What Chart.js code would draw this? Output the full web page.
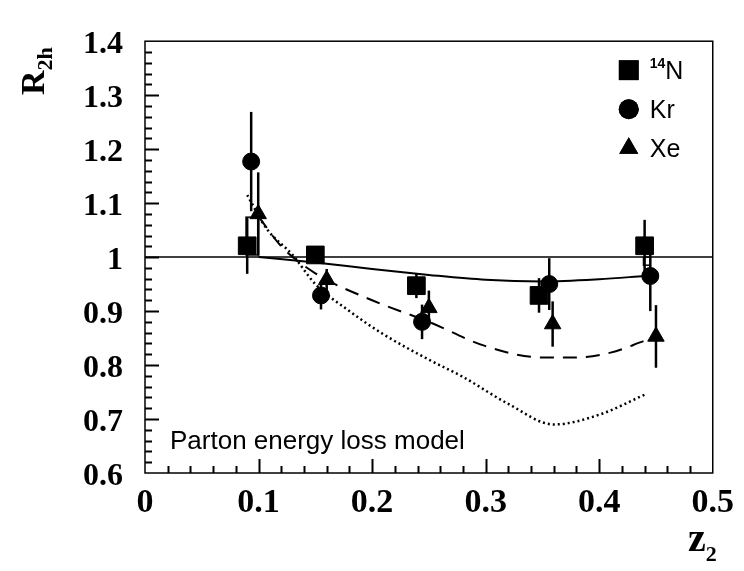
<!DOCTYPE html>
<html>
<head>
<meta charset="utf-8">
<script src="https://cdn.jsdelivr.net/npm/chart.js@4.4.1/dist/chart.umd.min.js"></script>
<style>
  html, body { margin: 0; padding: 0; background: #fff; }
  #wrap { width: 744px; height: 571px; position: relative; }
</style>
</head>
<body>
<div id="wrap"><canvas id="chart"></canvas></div>
<script>
// data
const xTicks = [0, 0.1, 0.2, 0.3, 0.4, 0.5];
const yTicks = [0.6, 0.7, 0.8, 0.9, 1.0, 1.1, 1.2, 1.3, 1.4];

const nX = [0.09, 0.15, 0.239, 0.347, 0.44];
const nY = [1.021, 1.004, 0.947, 0.929, 1.021];
const nErr = [0.052, 0.012, 0.023, 0.032, 0.048];

const krX = [0.0935, 0.155, 0.244, 0.356, 0.445];
const krY = [1.177, 0.929, 0.880, 0.950, 0.965];
const krErr = [0.092, 0.026, 0.032, 0.048, 0.065];

const xeX = [0.0997, 0.16, 0.25, 0.359, 0.45];
const xeY = [1.08, 0.958, 0.906, 0.876, 0.853];
const xeErr = [0.077, 0.02, 0.032, 0.042, 0.058];

// open systematic boxes [x1, x2, y1, y2]
const boxes = [[0.089, 0.1, 1.004, 1.074], [0.439, 0.445, 0.985, 1.0]];

// model curves
const solidX = [0.10, 0.15, 0.20, 0.25, 0.30, 0.35, 0.40, 0.44];
const solidY = [1.0, 0.99, 0.978, 0.967, 0.958, 0.955, 0.959, 0.965];
const dashX = [0.10, 0.12, 0.15, 0.20, 0.25, 0.30, 0.35, 0.38, 0.41, 0.44];
const dashY = [1.075, 1.02, 0.97, 0.92, 0.88, 0.835, 0.814, 0.814, 0.823, 0.845];
const dotX = [0.09, 0.107, 0.13, 0.15, 0.18, 0.21, 0.25, 0.28, 0.32, 0.36, 0.40, 0.44];
const dotY = [1.115, 1.053, 1.004, 0.95, 0.90, 0.857, 0.81, 0.778, 0.728, 0.69, 0.708, 0.745];
const refX = [0, 0.5];
const refY = [1.0, 1.0];

const pts = (xs, ys) => xs.map((x, i) => ({ x: x, y: ys[i] }));
const SERIF = '"Liberation Serif", "Times New Roman", serif';
const SANS = '"Liberation Sans", Arial, sans-serif';

const lineDs = (xs, ys, dash, width) => ({
  type: 'line', data: pts(xs, ys), showLine: true, pointRadius: 0,
  borderColor: '#000', borderWidth: width, borderDash: dash,
  tension: 0.35, cubicInterpolationMode: 'monotone', fill: false, order: 2
});
const markDs = (xs, ys, style, r, errs) => ({
  type: 'scatter', data: pts(xs, ys), pointStyle: style, pointRadius: r,
  backgroundColor: '#000', borderColor: '#000', borderWidth: 1, errs: errs, order: 1
});

// error bars, boxes, frame with inner ticks, texts
const decor = {
  id: 'decor',
  beforeDatasetsDraw(chart) {
    const { ctx, scales: { x, y } } = chart;
    ctx.save();
    ctx.strokeStyle = '#000';
    ctx.lineWidth = 1.5;
    ctx.fillStyle = '#fff';
    boxes.forEach(b => {
      const x1 = x.getPixelForValue(b[0]), x2 = x.getPixelForValue(b[1]);
      const y1 = y.getPixelForValue(b[2]), y2 = y.getPixelForValue(b[3]);
      ctx.fillRect(x1, y2, x2 - x1, y1 - y2);
      ctx.strokeRect(x1, y2, x2 - x1, y1 - y2);
    });
    ctx.restore();
  },
  afterDatasetsDraw(chart) {
    const { ctx, scales: { x, y } } = chart;
    ctx.save();
    ctx.strokeStyle = '#000';
    ctx.lineWidth = 2.5;
    chart.data.datasets.forEach(ds => {
      if (!ds.errs) return;
      ds.data.forEach((p, i) => {
        const px = x.getPixelForValue(p.x);
        ctx.beginPath();
        ctx.moveTo(px, y.getPixelForValue(p.y - ds.errs[i]));
        ctx.lineTo(px, y.getPixelForValue(p.y + ds.errs[i]));
        ctx.stroke();
      });
    });
    ctx.restore();
  },
  afterDraw(chart) {
    const { ctx, chartArea: a, scales: { x, y } } = chart;
    ctx.save();
    ctx.strokeStyle = '#000';
    ctx.setLineDash([]);
    ctx.lineWidth = 1.5;
    ctx.strokeRect(a.left, a.top, a.right - a.left, a.bottom - a.top);
    // inner ticks, ROOT style
    ctx.lineWidth = 2;
    ctx.beginPath();
    for (let k = 1; k < 25; k++) {
      const px = Math.round(x.getPixelForValue(k * 0.02)) + 0.5;
      ctx.moveTo(px, a.bottom);
      ctx.lineTo(px, a.bottom - (k % 5 === 0 ? 14 : 7));
    }
    for (let k = 1; k < 40; k++) {
      const py = Math.round(y.getPixelForValue(0.6 + k * 0.02)) + 0.5;
      ctx.moveTo(a.left, py);
      ctx.lineTo(a.left + (k % 5 === 0 ? 14 : 7), py);
    }
    ctx.stroke();

    // model label
    ctx.fillStyle = '#000';
    ctx.font = '26px ' + SANS;
    ctx.textBaseline = 'alphabetic';
    ctx.textAlign = 'left';
    ctx.fillText('Parton energy loss model', a.left + 25, a.bottom - 24);

    // legend
    const lx = a.right - 84;
    const items = [['rect', 'N', '14'], ['circle', 'Kr', ''], ['triangle', 'Xe', '']];
    items.forEach((it, i) => {
      const cy = a.top + 29 + i * 39;
      const r = it[0] === 'rect' ? 14 : (it[0] === 'circle' ? 10 : 11);
      Chart.helpers.drawPoint(ctx, { pointStyle: it[0], radius: r, borderWidth: 0 }, lx, cy);
      ctx.fill();
      let tx = lx + 21;
      if (it[2]) {
        ctx.font = 'bold 14px ' + SANS;
        ctx.fillText(it[2], tx, cy - 2);
        tx += ctx.measureText(it[2]).width;
      }
      ctx.font = '25px ' + SANS;
      ctx.fillText(it[1], tx, cy + 9);
    });

    // axis titles
    ctx.font = 'bold 34px ' + SERIF;
    ctx.save();
    ctx.translate(44, 95);
    ctx.rotate(-Math.PI / 2);
    ctx.fillText('R', 0, 0);
    const rw = ctx.measureText('R').width;
    ctx.font = 'bold 22px ' + SERIF;
    ctx.fillText('2h', rw, 8);
    ctx.restore();

    ctx.font = 'bold 40px ' + SERIF;
    ctx.fillText('z', 688, 551);
    const zw = ctx.measureText('z').width;
    ctx.font = 'bold 22px ' + SERIF;
    ctx.fillText('2', 688 + zw, 561);
    ctx.restore();
  }
};

new Chart(document.getElementById('chart'), {
  type: 'scatter',
  data: {
    datasets: [
      lineDs(refX, refY, [], 1.5),
      lineDs(solidX, solidY, [], 2),
      lineDs(dashX, dashY, [14, 9], 2),
      lineDs(dotX, dotY, [2, 3], 2.5),
      markDs(nX, nY, 'rect', 12.5, nErr),
      markDs(krX, krY, 'circle', 8.5, krErr),
      markDs(xeX, xeY, 'triangle', 9.5, xeErr)
    ]
  },
  options: {
    responsive: true,
    maintainAspectRatio: false,
    animation: false,
    layout: { padding: { top: 21, right: 27, left: 0, bottom: 0 } },
    plugins: { legend: { display: false }, tooltip: { enabled: false } },
    scales: {
      x: {
        type: 'linear', min: 0, max: 0.5,
        afterFit: s => { s.height = 98; },
        afterBuildTicks: s => { s.ticks = xTicks.map(v => ({ value: v })); },
        grid: { display: false, drawTicks: false },
        border: { display: false },
        ticks: {
          color: '#000', padding: 10,
          font: { family: SERIF, weight: 'bold', size: 34 },
          callback: v => String(+v.toFixed(1))
        }
      },
      y: {
        type: 'linear', min: 0.6, max: 1.4,
        afterFit: s => { s.width = 145; },
        afterBuildTicks: s => { s.ticks = yTicks.map(v => ({ value: v })); },
        grid: { display: false, drawTicks: false },
        border: { display: false },
        ticks: {
          color: '#000', padding: 22, labelOffset: 4,
          font: { family: SERIF, weight: 'bold', size: 32 },
          callback: v => String(+v.toFixed(1))
        }
      }
    }
  },
  plugins: [decor]
});
</script>
</body>
</html>
